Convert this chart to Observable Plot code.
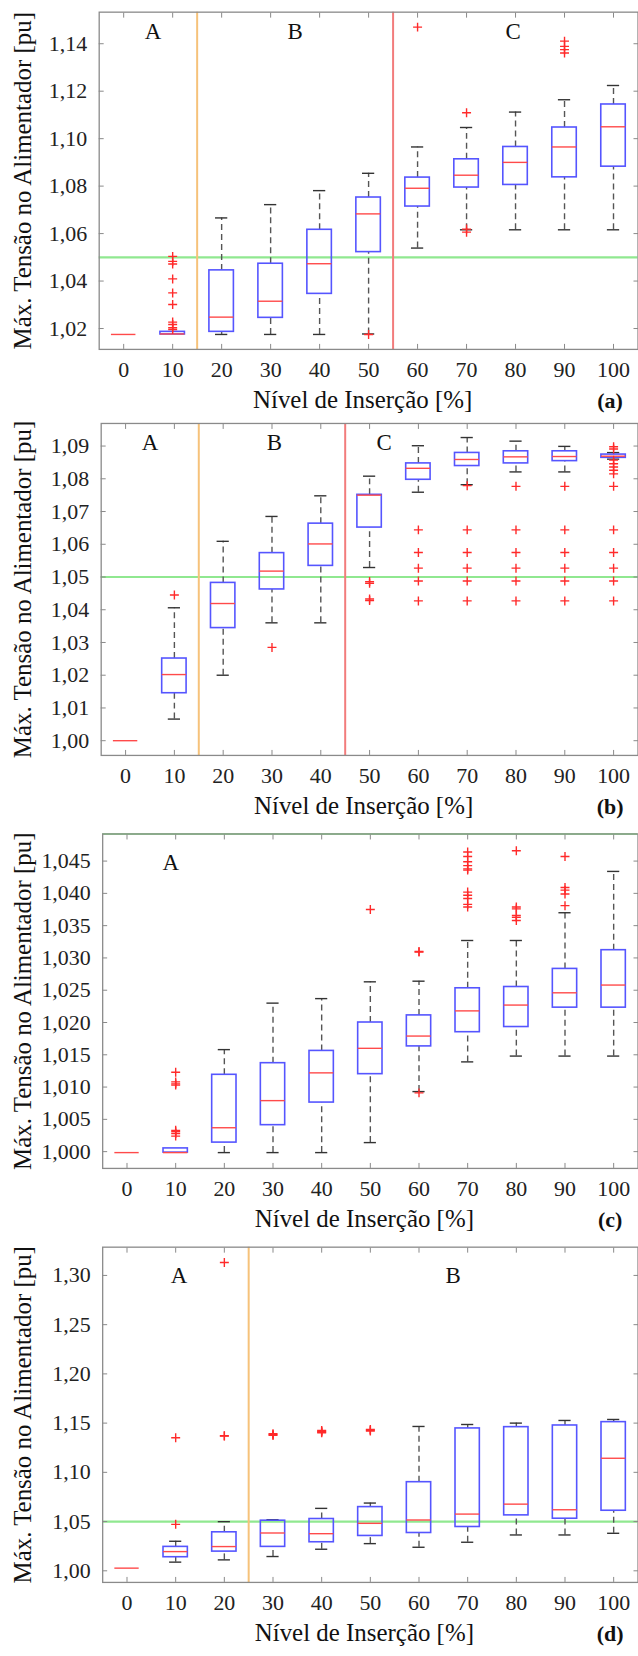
<!DOCTYPE html>
<html><head><meta charset="utf-8">
<script src="https://cdn.jsdelivr.net/npm/d3@7"></script>
<script src="https://cdn.jsdelivr.net/npm/@observablehq/plot@0.6"></script>
<style>
html,body{margin:0;padding:0;background:#fff;overflow:hidden;}
#c{width:638px;overflow:hidden;}
#c svg{display:block;}
#c svg, #c svg text, #c svg tspan{font-family:"Liberation Serif","DejaVu Serif","Noto Serif","Times New Roman",serif !important;}
</style></head><body><div id="c"></div>
<script>
// ---------- data ----------
const levels = [0, 10, 20, 30, 40, 50, 60, 70, 80, 90, 100];
const limitV = 1.05;
const xTitle = "Nível de Inserção [%]";
const yTitle = "Máx. Tensão no Alimentador [pu]";

// panel (a)
const aLow  = [1.0175, 1.0175, 1.0175, 1.0175, 1.0175, 1.0177, 1.0539, 1.0616, 1.0616, 1.0616, 1.0616];
const aQ1   = [1.0175, 1.0175, 1.0186, 1.0245, 1.0346, 1.0522, 1.0714, 1.0794, 1.0805, 1.0837, 1.0882];
const aMed  = [1.0175, 1.0177, 1.0248, 1.0315, 1.0473, 1.0683, 1.0791, 1.0846, 1.0900, 1.0965, 1.1050];
const aQ3   = [1.0175, 1.0186, 1.0445, 1.0473, 1.0616, 1.0752, 1.0836, 1.0913, 1.0965, 1.1047, 1.1144];
const aHigh = [1.0175, 1.0186, 1.0666, 1.0722, 1.0781, 1.0854, 1.0965, 1.1047, 1.1112, 1.1164, 1.1224];
const aOut  = [[], [1.0504, 1.0483, 1.0472, 1.0409, 1.0350, 1.0301, 1.0227, 1.0217, 1.0203, 1.0196], [], [], [],
               [1.0175], [1.1470], [1.1109, 1.0619, 1.0606], [], [1.1411, 1.1389, 1.1375, 1.1361], []];
const aTicks = [1.02, 1.04, 1.06, 1.08, 1.10, 1.12, 1.14];
const aDomain = [1.0112, 1.1533];
const aBounds = [15, 55];
const aRegions = ["A", "B", "C"];
const aRegionX = [6, 35, 79.5];
const aRegionY = 1.145;

// panel (b)
const bLow  = [1.0000, 1.0066, 1.0200, 1.0360, 1.0360, 1.0529, 1.0759, 1.0782, 1.0821, 1.0821, 1.0860];
const bQ1   = [1.0000, 1.0145, 1.0344, 1.0462, 1.0534, 1.0651, 1.0797, 1.0839, 1.0847, 1.0854, 1.0864];
const bMed  = [1.0000, 1.0202, 1.0419, 1.0518, 1.0601, 1.0750, 1.0832, 1.0859, 1.0867, 1.0868, 1.0869];
const bQ3   = [1.0000, 1.0251, 1.0482, 1.0573, 1.0663, 1.0751, 1.0847, 1.0879, 1.0884, 1.0884, 1.0874];
const bHigh = [1.0000, 1.0406, 1.0609, 1.0685, 1.0748, 1.0808, 1.0901, 1.0926, 1.0915, 1.0899, 1.0880];
const bOut  = [[], [1.0445], [], [1.0285], [], [1.0486, 1.0481, 1.0433, 1.0428],
               [1.0644, 1.0575, 1.0527, 1.0488, 1.0427],
               [1.0779, 1.0644, 1.0575, 1.0527, 1.0488, 1.0427],
               [1.0777, 1.0644, 1.0575, 1.0527, 1.0488, 1.0427],
               [1.0777, 1.0644, 1.0575, 1.0527, 1.0488, 1.0427],
               [1.0898, 1.0891, 1.0857, 1.0846, 1.0836, 1.0826, 1.0815, 1.0777, 1.0644, 1.0575, 1.0527, 1.0488, 1.0427]];
const bTicks = [1.00, 1.01, 1.02, 1.03, 1.04, 1.05, 1.06, 1.07, 1.08, 1.09];
const bDomain = [0.9955, 1.0969];
const bBounds = [15, 45];
const bRegions = ["A", "B", "C"];
const bRegionX = [5, 30.5, 53];
const bRegionY = 1.091;

// panel (c)
const cLow  = [0.99985, 0.99985, 0.99985, 0.99985, 0.99985, 1.0014, 1.0093, 1.0139, 1.0148, 1.0148, 1.0148];
const cQ1   = [0.99985, 0.99985, 1.0014, 1.0041, 1.0076, 1.0120, 1.0163, 1.0185, 1.0193, 1.0223, 1.0223];
const cMed  = [0.99985, 0.99985, 1.0037, 1.0079, 1.0122, 1.0160, 1.0179, 1.0218, 1.0227, 1.0246, 1.0258];
const cQ3   = [0.99985, 1.0005, 1.0119, 1.0137, 1.0156, 1.0200, 1.0211, 1.0253, 1.0255, 1.0283, 1.0312];
const cHigh = [0.99985, 1.0005, 1.0158, 1.0230, 1.0237, 1.0263, 1.0264, 1.0327, 1.0327, 1.0370, 1.0434];
const cOut  = [[], [1.0123, 1.0108, 1.0105, 1.0103, 1.0033, 1.0031, 1.0028, 1.0024], [], [], [], [1.0375],
               [1.0310, 1.0309, 1.0091],
               [1.0464, 1.0457, 1.0449, 1.0443, 1.0438, 1.0436, 1.0402, 1.0397, 1.0392, 1.0383, 1.0379],
               [1.0466, 1.0379, 1.0376, 1.0366, 1.0363, 1.0358],
               [1.0457, 1.0409, 1.0405, 1.0399, 1.0381], []];
const cTicks = [1.000, 1.005, 1.010, 1.015, 1.020, 1.025, 1.030, 1.035, 1.040, 1.045];
const cDomain = [0.9974, 1.0492];
const cBounds = [];
const cRegions = ["A"];
const cRegionX = [9];
const cRegionY = 1.0448;

// panel (d)
const dLow  = [1.0027, 1.0088, 1.0111, 1.0145, 1.0219, 1.0276, 1.0239, 1.0290, 1.0364, 1.0364, 1.0381];
const dQ1   = [1.0027, 1.0138, 1.0195, 1.0243, 1.0290, 1.0354, 1.0384, 1.0445, 1.0563, 1.0529, 1.0610];
const dMed  = [1.0027, 1.0195, 1.0246, 1.0384, 1.0377, 1.0482, 1.0516, 1.0576, 1.0677, 1.0620, 1.1143];
const dQ3   = [1.0027, 1.0243, 1.0391, 1.0509, 1.0526, 1.0647, 1.0900, 1.1446, 1.1459, 1.1476, 1.1510];
const dHigh = [1.0027, 1.0300, 1.0499, 1.0519, 1.0634, 1.0688, 1.1466, 1.1486, 1.1500, 1.1527, 1.1537];
const dOut  = [[], [1.1352, 1.0472], [1.3132, 1.1372, 1.1368], [1.1392, 1.1385, 1.1375],
               [1.1426, 1.1418, 1.1410, 1.1402], [1.1436, 1.1428, 1.1419], [], [], [], [], []];
const dTicks = [1.00, 1.05, 1.10, 1.15, 1.20, 1.25, 1.30];
const dDomain = [0.9882, 1.3287];
const dBounds = [25];
const dRegions = ["A", "B"];
const dRegionX = [10.7, 67];
const dRegionY = 1.30;

// ---------- drawing ----------
const FONT = "Liberation Serif, DejaVu Serif, Noto Serif, serif";
const boundColors = ["#f6c27a", "#f27c7c"];
const plusSym = {
  draw(ctx, size) {
    const r = Math.sqrt(size / Math.PI);
    ctx.moveTo(-r, 0); ctx.lineTo(r, 0);
    ctx.moveTo(0, -r); ctx.lineTo(0, r);
  }
};

function panel(p) {
  const rows = levels.map((x, i) => ({x, lo: p.lo[i], q1: p.q1[i], med: p.med[i], q3: p.q3[i], hi: p.hi[i]}));
  const outs = levels.flatMap((x, i) => p.out[i].map(y => ({x, y})));
  const upper = rows.filter(r => r.hi > r.q3);
  const lower = rows.filter(r => r.lo < r.q1);
  const boxes = rows.filter(r => r.q3 > r.q1);
  const W = 2.5, C = 1.25;
  const fmt = d => d.toFixed(p.dec).replace(".", ",");
  const marks = [
    Plot.ruleY([Math.min(limitV, p.domain[1])], {stroke: "#90e890", strokeWidth: 2.2}),
    ...p.bounds.map((b, i) => Plot.ruleX([b], {stroke: boundColors[i], strokeWidth: 2})),
    Plot.ruleX(upper, {x: "x", y1: "q3", y2: "hi", stroke: "#555", strokeWidth: 1.4, strokeDasharray: "6,4"}),
    Plot.ruleX(lower, {x: "x", y1: "lo", y2: "q1", stroke: "#555", strokeWidth: 1.4, strokeDasharray: "6,4"}),
    Plot.ruleY(upper, {y: "hi", x1: d => d.x - C, x2: d => d.x + C, stroke: "#333", strokeWidth: 1.4}),
    Plot.ruleY(lower, {y: "lo", x1: d => d.x - C, x2: d => d.x + C, stroke: "#333", strokeWidth: 1.4}),
    Plot.rect(boxes, {x1: d => d.x - W, x2: d => d.x + W, y1: "q1", y2: "q3", fill: "none", stroke: "#5555ff", strokeWidth: 1.6}),
    Plot.ruleY(rows, {y: "med", x1: d => d.x - W, x2: d => d.x + W, stroke: "#ff4a4a", strokeWidth: 1.4}),
    Plot.dot(outs, {x: "x", y: "y", symbol: plusSym, r: 4.5, fill: "none", stroke: "#ff2a2a", strokeWidth: 1.4}),
    Plot.frame({stroke: "#8a8a8a", strokeWidth: 1.3}),
    Plot.axisY(p.ticks, {anchor: "left", tickSize: -5, tickPadding: 17, tickFormat: fmt, fontSize: 22, fontFamily: FONT, label: null, stroke: "#8a8a8a", fill: "#222"}),
    Plot.axisY(p.ticks, {anchor: "right", tickSize: -5, label: null, stroke: "#8a8a8a", fill: "none"}),
    Plot.axisX(levels, {anchor: "bottom", tickSize: -5, tickPadding: 17, fontSize: 22, fontFamily: FONT, label: null, stroke: "#8a8a8a", fill: "#222"}),
    Plot.axisX(levels, {anchor: "top", tickSize: -5, label: null, stroke: "#8a8a8a", fill: "none"}),
    Plot.text(p.regions, {x: p.regionX, y: () => p.regionY, text: d => d, fontSize: 23, fontFamily: FONT, fill: "#111"}),
    Plot.text([xTitle], {text: d => d, frameAnchor: "bottom", textAnchor: "middle", dy: 51, dx: -6, fontSize: 25, fontFamily: FONT, lineAnchor: "middle", fill: "#111"}),
    Plot.text([p.tag], {text: d => d, frameAnchor: "bottom-right", textAnchor: "middle", dy: 52, dx: -28, fontSize: 22, fontFamily: FONT, fontWeight: "bold", lineAnchor: "middle", fill: "#111"}),
    Plot.text([yTitle], {text: d => d, frameAnchor: "left", textAnchor: "middle", rotate: -90, dx: 23 - p.mL, fontSize: 25, fontFamily: FONT, lineAnchor: "middle", fill: "#111"})
  ];
  const svg = Plot.plot({
    width: 640, height: 414,
    marginLeft: p.mL, marginRight: 0.5, marginTop: p.mT, marginBottom: p.mB,
    style: {background: "#fff", color: "#111"},
    x: {domain: [-5, 105]},
    y: {domain: p.domain},
    marks
  });
  svg.setAttribute("font-family", FONT);
  svg.querySelectorAll("text").forEach(t => t.style.fontFamily = FONT);
  return svg;
}

const panels = [
  {tag: "(a)", lo: aLow, q1: aQ1, med: aMed, q3: aQ3, hi: aHigh, out: aOut, ticks: aTicks, domain: aDomain, bounds: aBounds,
   regions: aRegions, regionX: aRegionX, regionY: aRegionY, dec: 2, mL: 99, mT: 11.7, mB: 64},
  {tag: "(b)", lo: bLow, q1: bQ1, med: bMed, q3: bQ3, hi: bHigh, out: bOut, ticks: bTicks, domain: bDomain, bounds: bBounds,
   regions: bRegions, regionX: bRegionX, regionY: bRegionY, dec: 2, mL: 101, mT: 10, mB: 71},
  {tag: "(c)", lo: cLow, q1: cQ1, med: cMed, q3: cQ3, hi: cHigh, out: cOut, ticks: cTicks, domain: cDomain, bounds: cBounds,
   regions: cRegions, regionX: cRegionX, regionY: cRegionY, dec: 3, mL: 102.5, mT: 8.5, mB: 70},
  {tag: "(d)", lo: dLow, q1: dQ1, med: dMed, q3: dQ3, hi: dHigh, out: dOut, ticks: dTicks, domain: dDomain, bounds: dBounds,
   regions: dRegions, regionX: dRegionX, regionY: dRegionY, dec: 2, mL: 102.5, mT: 8.7, mB: 69}
];
const host = document.getElementById("c");
for (const p of panels) host.appendChild(panel(p));
</script></body></html>
